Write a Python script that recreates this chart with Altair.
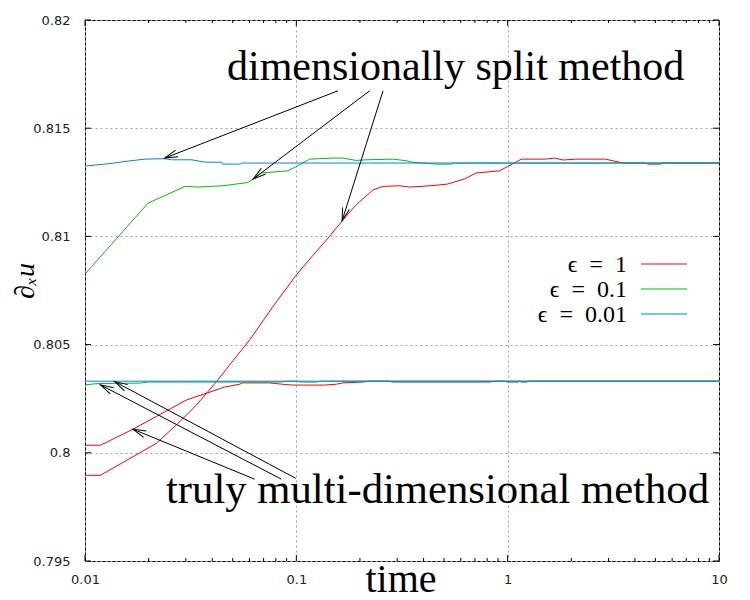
import math
import altair as alt
import pandas as pd

# ---------------- data ----------------
# dimensionally split method
t_split_e1 = [0.0100, 0.01183, 0.02178, 0.0281, 0.0337, 0.0419, 0.0502, 0.0602, 0.0775, 0.1000,
              0.1205, 0.1435, 0.1665, 0.1920, 0.2306, 0.2566, 0.3077, 0.3440, 0.4345, 0.5200,
              0.6270, 0.7090, 0.9150, 1.0000, 1.1600, 1.5000, 1.6700, 1.8300, 2.1000, 2.9000,
              3.3700, 3.6000, 4.5000, 4.6000, 5.3000, 5.4000, 10.0]
v_split_e1 = [0.79896, 0.79896, 0.80044, 0.80144, 0.80221, 0.80329, 0.80426, 0.80522, 0.80676, 0.80822,
              0.80915, 0.81000, 0.81077, 0.81146, 0.81215, 0.81231, 0.81234, 0.81228, 0.81234, 0.81242,
              0.81266, 0.81293, 0.81303, 0.81323, 0.81357, 0.81357, 0.81362, 0.81353, 0.81357, 0.81357,
              0.81343, 0.81339, 0.81339, 0.81334, 0.81334, 0.81339, 0.81339]

t_split_e01 = [0.0100, 0.0199, 0.0243, 0.0297, 0.0344, 0.0450, 0.0590, 0.0624, 0.0683, 0.0912,
               0.1000, 0.1155, 0.1493, 0.1656, 0.1920, 0.2134, 0.2856, 0.3300, 0.3570, 0.4000,
               0.4600, 0.5400, 0.5600, 10.0]
v_split_e01 = [0.80826, 0.81154, 0.81192, 0.81231, 0.81228, 0.81234, 0.81249, 0.81265, 0.81293, 0.81303,
               0.81323, 0.81357, 0.81362, 0.81362, 0.81351, 0.81354, 0.81357, 0.81350, 0.81342, 0.81339,
               0.81334, 0.81334, 0.81339, 0.81339]

t_split_e001 = [0.0100, 0.0130, 0.0160, 0.0192, 0.0238, 0.0257, 0.0320, 0.0369, 0.0443, 0.0448,
                0.0540, 0.0552, 10.0]
v_split_e001 = [0.81325, 0.81336, 0.81348, 0.81357, 0.81359, 0.81354, 0.81354, 0.81343, 0.81343, 0.81334,
                0.81334, 0.81339, 0.81339]

# truly multi-dimensional method
t_multi_e1 = [0.0100, 0.01183, 0.01687, 0.0302, 0.0375, 0.0458, 0.0540, 0.0557, 0.0748, 0.0853,
              0.0961, 0.1360, 0.1550, 0.1660, 0.2060, 0.2200, 0.2700, 0.2860, 0.8220, 0.8800,
              0.9600, 1.0000, 1.1200, 1.1400, 1.1600, 1.2300, 1.2600, 10.0]
v_multi_e1 = [0.80035, 0.80035, 0.80109, 0.80244, 0.80275, 0.80304, 0.80317, 0.80323, 0.80323, 0.80317,
              0.80313, 0.80313, 0.80317, 0.80323, 0.80327, 0.80331, 0.80331, 0.80327, 0.80327, 0.80331,
              0.80331, 0.80327, 0.80327, 0.80331, 0.80327, 0.80327, 0.80331, 0.80331]

t_multi_e01 = [0.0100, 0.0115, 0.0181, 0.0200, 0.0850, 0.0900, 0.1000, 0.1050, 0.1250, 0.1300, 10.0]
v_multi_e01 = [0.80314, 0.80320, 0.80322, 0.80327, 0.80327, 0.80331, 0.80331, 0.80327, 0.80327, 0.80331, 0.80331]

t_multi_e001 = [0.0100, 10.0]
v_multi_e001 = [0.80331, 0.80331]

eps_labels = ["\u03f5\u2002=\u20021", "\u03f5\u2002=\u20020.1", "\u03f5\u2002=\u20020.01"]
eps_colors = ["#ff0000", "#00c000", "#0080ff"]

# tick values
x_major = [0.01, 0.1, 1, 10]
x_minor = [k * 10.0 ** d for d in (-2, -1, 0) for k in range(2, 10)]
y_major = [0.795, 0.8, 0.805, 0.81, 0.815, 0.82]

# annotation arrows: tail (text end) -> tip (curve), in data coordinates
arrow_tail_t = [0.1575, 0.2225, 0.2572, 0.0635, 0.0850, 0.0994]
arrow_tail_v = [0.81673, 0.81673, 0.81673, 0.79878, 0.79878, 0.79882]
arrow_tip_t = [0.02384, 0.0624, 0.1646, 0.01687, 0.01183, 0.01382]
arrow_tip_v = [0.81362, 0.81265, 0.81072, 0.80109, 0.80314, 0.80329]

# ---------------- layout ----------------
W, H = 634, 541
XDOM = [0.01, 10]
YDOM = [0.795, 0.82]

xs = alt.Scale(type="log", domain=XDOM, nice=False)
ys = alt.Scale(domain=YDOM, nice=False, zero=False)

series = {
    0: [("split", t_split_e1, v_split_e1), ("multi", t_multi_e1, v_multi_e1)],
    1: [("split", t_split_e01, v_split_e01), ("multi", t_multi_e01, v_multi_e01)],
    2: [("split", t_split_e001, v_split_e001), ("multi", t_multi_e001, v_multi_e001)],
}

layers = []

# axes (labels + dotted grid) carried by an invisible layer
axis_df = pd.DataFrame({"time": XDOM, "value": YDOM})
layers.append(
    alt.Chart(axis_df).mark_point(opacity=0).encode(
        x=alt.X("time:Q", scale=xs,
                axis=alt.Axis(values=x_major, format="~g", title=None, grid=True, labelFlush=False,
                              ticks=False, tickSize=0, domain=False, labelPadding=12)),
        y=alt.Y("value:Q", scale=ys,
                axis=alt.Axis(values=y_major, format="~g", title=None, grid=True, labelFlush=False,
                              ticks=False, tickSize=0, domain=False, labelPadding=15)),
    )
)

# inward ticks
xmaj = pd.DataFrame({"time": x_major})
xmin = pd.DataFrame({"time": x_minor})
ymaj = pd.DataFrame({"value": y_major})
tick_style = dict(color="black", strokeWidth=1)
for df, ln in ((xmaj, 6), (xmin, 3)):
    layers.append(alt.Chart(df).mark_rule(**tick_style).encode(
        x=alt.X("time:Q", scale=xs), y=alt.value(H), y2=alt.value(H - ln)))
    layers.append(alt.Chart(df).mark_rule(**tick_style).encode(
        x=alt.X("time:Q", scale=xs), y=alt.value(0), y2=alt.value(ln)))
layers.append(alt.Chart(ymaj).mark_rule(**tick_style).encode(
    y=alt.Y("value:Q", scale=ys), x=alt.value(0), x2=alt.value(6)))
layers.append(alt.Chart(ymaj).mark_rule(**tick_style).encode(
    y=alt.Y("value:Q", scale=ys), x=alt.value(W), x2=alt.value(W - 6)))

# curves: red, green, blue (blue on top)
for i in range(3):
    rows = []
    for method, ts, vs in series[i]:
        for t, v in zip(ts, vs):
            rows.append({"time": t, "value": v, "method": method})
    df = pd.DataFrame(rows)
    layers.append(
        alt.Chart(df).mark_line(color=eps_colors[i], strokeWidth=1).encode(
            x=alt.X("time:Q", scale=xs),
            y=alt.Y("value:Q", scale=ys),
            detail="method:N",
        )
    )

# arrows
def px(t):
    return W * math.log10(t / XDOM[0]) / math.log10(XDOM[1] / XDOM[0])

def py(v):
    return H * (YDOM[1] - v) / (YDOM[1] - YDOM[0])

arrow_rows = []
for t0, v0, t1, v1 in zip(arrow_tail_t, arrow_tail_v, arrow_tip_t, arrow_tip_v):
    dx = px(t0) - px(t1)
    dy = py(v0) - py(v1)
    ang = math.degrees(math.atan2(-dx, dy)) % 360
    arrow_rows.append({"t0": t0, "v0": v0, "t1": t1, "v1": v1, "ang": ang})
arrows = pd.DataFrame(arrow_rows)

layers.append(alt.Chart(arrows).mark_rule(color="black", strokeWidth=1).encode(
    x=alt.X("t1:Q", scale=xs), y=alt.Y("v1:Q", scale=ys),
    x2="t0:Q", y2="v0:Q"))
layers.append(alt.Chart(arrows).mark_point(
    shape="M -0.27 1 L 0 0 L 0.27 1", filled=False, color="black",
    strokeWidth=1, size=676, opacity=1).encode(
    x=alt.X("t1:Q", scale=xs), y=alt.Y("v1:Q", scale=ys),
    angle=alt.Angle("ang:Q", scale=None)))

# annotation texts
serif = "'Liberation Serif', 'DejaVu Serif', serif"
layers.append(alt.Chart(pd.DataFrame({"s": ["dimensionally split method"]})).mark_text(
    font=serif, fontSize=42, align="left", baseline="alphabetic", color="black").encode(
    text="s:N", x=alt.value(142), y=alt.value(60)))
layers.append(alt.Chart(pd.DataFrame({"s": ["truly multi-dimensional method"]})).mark_text(
    font=serif, fontSize=42.7, align="left", baseline="alphabetic", color="black").encode(
    text="s:N", x=alt.value(81), y=alt.value(483)))

# axis titles
layers.append(alt.Chart(pd.DataFrame({"s": ["time"]})).mark_text(
    font=serif, fontSize=40, align="center", baseline="alphabetic", color="black").encode(
    text="s:N", x=alt.value(316), y=alt.value(572)))
layers.append(alt.Chart(pd.DataFrame({"s": ["\u2202\u2093u"]})).mark_text(
    font=serif, fontStyle="italic", fontSize=28, align="center", baseline="middle",
    angle=270, color="black").encode(
    text="s:N", x=alt.value(-59), y=alt.value(261)))

# legend (labels left of line samples)
leg_y = [244, 269, 294]
for i in range(3):
    layers.append(alt.Chart(pd.DataFrame({"s": [eps_labels[i]]})).mark_text(
        font=serif, fontSize=24, align="right", baseline="alphabetic", color="black").encode(
        text="s:N", x=alt.value(542), y=alt.value(leg_y[i] + 8)))
    layers.append(alt.Chart(pd.DataFrame({"s": [eps_labels[i]]})).mark_rule(
        color=eps_colors[i], strokeWidth=1).encode(
        x=alt.value(556), x2=alt.value(602), y=alt.value(leg_y[i])))

chart = alt.layer(*layers).properties(
    width=W, height=H,
    autosize=alt.AutoSizeParams(type="none"),
    padding={"left": 77, "top": 12, "right": 20, "bottom": 48},
).configure_view(
    stroke="black", strokeWidth=1
).configure_axis(
    labelFont="DejaVu Sans", labelFontSize=13, labelColor="#222",
    gridColor="#a0a0a0", gridDash=[2, 3], gridWidth=1,
)

chart.save("out.html", embed_options={"renderer": "svg", "actions": False})
